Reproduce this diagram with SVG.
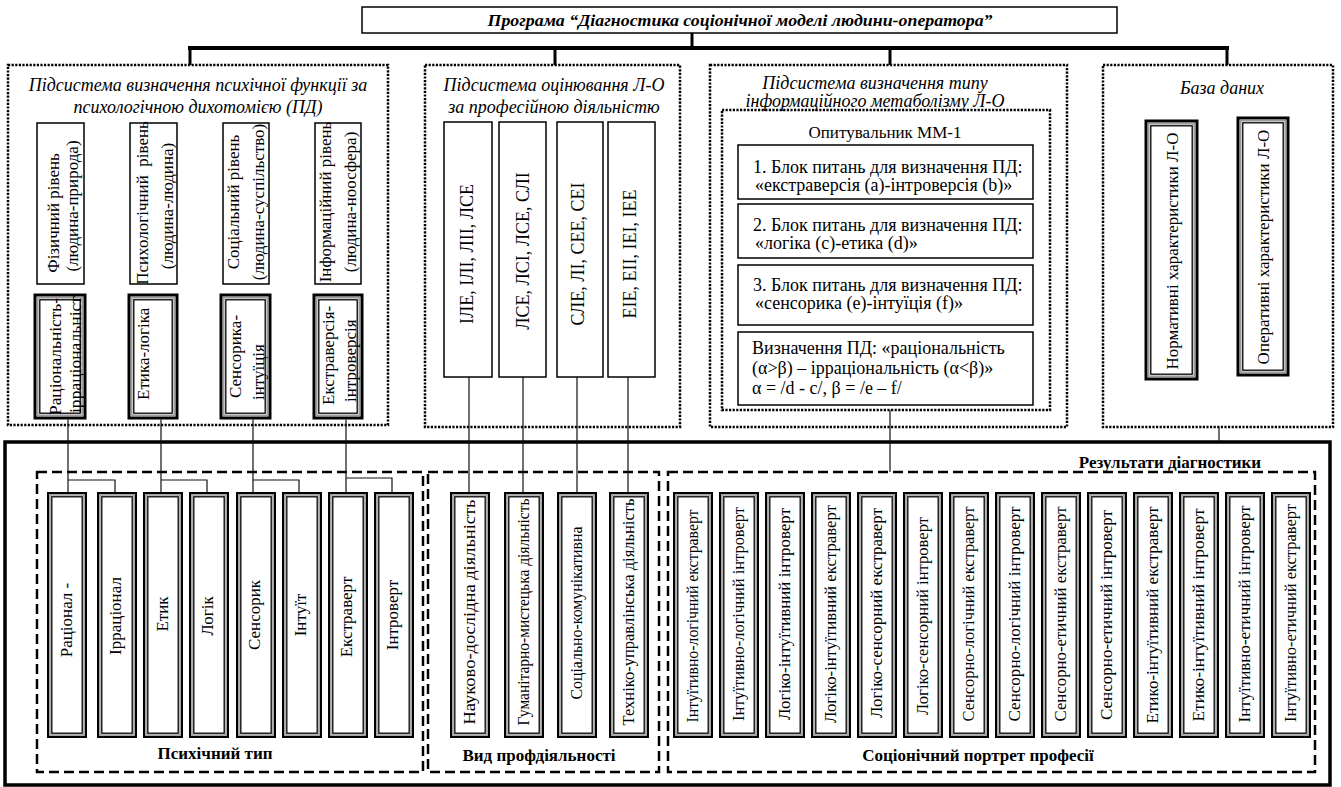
<svg xmlns="http://www.w3.org/2000/svg" width="1341" height="787" viewBox="0 0 1341 787">
  <style>
    text { font-family: "Liberation Serif", "Times New Roman", serif; fill: #000; }
    .it { font-style: italic; font-size: 18px; text-anchor: middle; }
    .ttl { font-style: italic; font-weight: bold; font-size: 16px; text-anchor: middle; }
    .bd { font-weight: bold; font-size: 17px; text-anchor: middle; }
    .v { font-size: 17px; text-anchor: middle; dominant-baseline: central; }
    .vs { font-size: 17px; text-anchor: start; dominant-baseline: central; }
    .vc { font-size: 18px; text-anchor: middle; dominant-baseline: central; }
    .vr { font-size: 16px; text-anchor: middle; dominant-baseline: central; }
    .h { font-size: 18px; }
    .box { fill: #fff; stroke: #000; stroke-width: 1.5; }
    .dot { fill: none; stroke: #000; stroke-width: 2.5; stroke-dasharray: 2.2 1.4; }
    .dash { fill: none; stroke: #000; stroke-width: 2.5; stroke-dasharray: 10 5; }
    .thick { fill: none; stroke: #000; stroke-width: 3.5; }
    .t1 { fill: #fff; stroke: #000; stroke-width: 2.2; }
    .t2 { fill: none; stroke: #999; stroke-width: 1.5; }
    .t3 { fill: none; stroke: #000; stroke-width: 1.3; }
    .ln { fill: none; stroke: #111; stroke-width: 1.2; }
    .bar { fill: none; stroke: #000; stroke-width: 4; }
    .drop { fill: none; stroke: #000; stroke-width: 3; }
  </style>
  <defs>
    <!-- triple-line frame, 40 x 246 -->
    <g id="tri40">
      <rect class="t1" x="1.1" y="1.1" width="37.8" height="243.8"/>
      <rect class="t2" x="3" y="3" width="34" height="240"/>
      <rect class="t3" x="4.8" y="4.8" width="30.4" height="236.4"/>
    </g>
  </defs>

  <rect width="1341" height="787" fill="#fff"/>

  <!-- program title -->
  <g id="title">
    <rect class="box" x="362" y="7" width="755" height="26"/>
    <text class="ttl" x="740" y="26" textLength="505" lengthAdjust="spacingAndGlyphs">Програма “Діагностика соціонічної моделі людини-оператора”</text>
  </g>

  <!-- subsystem: psychological dichotomies -->
  <g id="subsys-psych">
    <rect class="dot" x="8" y="65" width="380" height="360"/>
    <text class="it" x="198" y="91">Підсистема визначення психічної функції за</text>
    <text class="it" x="198" y="113">психологічною дихотомією (ПД)</text>
    <rect class="box" x="37" y="123" width="47" height="161"/>
    <rect class="box" x="130" y="123" width="47" height="161"/>
    <rect class="box" x="223" y="123" width="46" height="161"/>
    <rect class="box" x="315" y="123" width="46" height="161"/>
    <text class="v" transform="translate(53,213) rotate(-90)">Фізичний рівень</text>
    <text class="v" transform="translate(72,206) rotate(-90)">(людина-природа)</text>
    <text class="v" transform="translate(142,203) rotate(-90)" style="white-space:pre">Психологічний  рівень</text>
    <text class="v" transform="translate(167,206) rotate(-90)">(людина-людина)</text>
    <text class="v" transform="translate(233,202) rotate(-90)">Соціальний рівень</text>
    <text class="v" transform="translate(258,202) rotate(-90)">(людина-суспільство)</text>
    <text class="v" transform="translate(325,202) rotate(-90)">Інформаційний рівень</text>
    <text class="v" transform="translate(350,202) rotate(-90)">(людина-ноосфера)</text>
  </g>
  <g id="dichotomy-ri">
    <rect class="t1" x="35" y="295" width="50" height="123" style="stroke-width:3"/>
    <rect class="t2" x="37.8" y="297.8" width="44.4" height="117.4"/>
    <rect class="t3" x="39.8" y="299.8" width="40.4" height="113.4"/>
    <text class="vs" transform="translate(55,415) rotate(-90)" textLength="117" lengthAdjust="spacingAndGlyphs">Раціональність-</text>
    <text class="vs" transform="translate(75,413) rotate(-90)" textLength="117" lengthAdjust="spacingAndGlyphs">ірраціональніст</text>
  </g>
  <g id="dichotomy-el">
    <rect class="t1" x="129" y="295" width="48" height="123" style="stroke-width:3"/>
    <rect class="t2" x="131.8" y="297.8" width="42.4" height="117.4"/>
    <rect class="t3" x="133.8" y="299.8" width="38.4" height="113.4"/>
    <text class="vs" transform="translate(143,400) rotate(-90)">Етика-логіка</text>
  </g>
  <g id="dichotomy-si">
    <rect class="t1" x="221" y="295" width="49" height="123" style="stroke-width:3"/>
    <rect class="t2" x="223.8" y="297.8" width="43.4" height="117.4"/>
    <rect class="t3" x="225.8" y="299.8" width="39.4" height="113.4"/>
    <text class="vs" transform="translate(235,398) rotate(-90)">Сенсорика-</text>
    <text class="vs" transform="translate(258,400) rotate(-90)">інтуїція</text>
  </g>
  <g id="dichotomy-ei">
    <rect class="t1" x="314" y="295" width="48" height="123" style="stroke-width:3"/>
    <rect class="t2" x="316.8" y="297.8" width="42.4" height="117.4"/>
    <rect class="t3" x="318.8" y="299.8" width="38.4" height="113.4"/>
    <text class="vs" transform="translate(328,405) rotate(-90)">Екстраверсія-</text>
    <text class="vs" transform="translate(350,402) rotate(-90)">інтроверсія</text>
  </g>

  <!-- subsystem: professional activity -->
  <g id="subsys-prof">
    <rect class="dot" x="425" y="65" width="255" height="362"/>
    <text class="it" x="554" y="91">Підсистема оцінювання Л-О</text>
    <text class="it" x="554" y="113">за професійною діяльністю</text>
    <rect class="box" x="444" y="122" width="48" height="255"/>
    <rect class="box" x="499" y="122" width="47" height="255"/>
    <rect class="box" x="557" y="122" width="46" height="255"/>
    <rect class="box" x="608" y="122" width="47" height="255"/>
    <text class="vc" transform="translate(467,254) rotate(-90)">ІЛЕ, ІЛІ, ЛІІ, ЛСЕ</text>
    <text class="vc" transform="translate(523,251) rotate(-90)">ЛСЕ, ЛСІ, ЛСЕ, СЛІ</text>
    <text class="vc" transform="translate(578,254) rotate(-90)">СЛЕ, ЛІ, СЕЕ, СЕІ</text>
    <text class="vc" transform="translate(630,254) rotate(-90)">ЕІЕ, ЕІІ, ІЕІ, ІЕЕ</text>
  </g>

  <!-- subsystem: information metabolism type -->
  <g id="subsys-mm">
    <rect class="dot" x="710" y="65" width="357" height="362"/>
    <text class="it" x="875" y="89">Підсистема визначення типу</text>
    <text class="it" x="875" y="107">інформаційного метаболізму Л-О</text>
    <rect class="dot" x="722" y="110" width="328" height="300"/>
    <text class="h" x="885" y="138" text-anchor="middle" style="font-size:17px">Опитувальник ММ-1</text>
    <rect class="box" x="738" y="145" width="295" height="54"/>
    <text class="h" x="753" y="173">1. Блок питань для визначення ПД:</text>
    <text class="h" x="755" y="191">«екстраверсія (а)-інтроверсія (b)»</text>
    <rect class="box" x="738" y="204" width="295" height="54"/>
    <text class="h" x="753" y="231">2. Блок питань для визначення ПД:</text>
    <text class="h" x="755" y="249">«логіка (с)-етика (d)»</text>
    <rect class="box" x="738" y="265" width="295" height="60"/>
    <text class="h" x="753" y="291">3. Блок питань для визначення ПД:</text>
    <text class="h" x="755" y="309">«сенсорика (е)-інтуїція (f)»</text>
    <rect class="box" x="738" y="332" width="295" height="73"/>
    <text class="h" x="752" y="354">Визначення ПД: «раціональність</text>
    <text class="h" x="752" y="374">(α&gt;β) – ірраціональність (α&lt;β)»</text>
    <text class="h" x="752" y="394">α = /d - c/, β = /e – f/</text>
  </g>

  <!-- subsystem: database -->
  <g id="subsys-db">
    <rect class="dot" x="1103" y="65" width="230" height="362"/>
    <text class="it" x="1222" y="94">База даних</text>
    <rect class="t1" x="1146" y="121" width="51" height="258" style="stroke-width:3"/>
    <rect class="t2" x="1148.8" y="123.8" width="45.4" height="252.4"/>
    <rect class="t3" x="1150.8" y="125.8" width="41.4" height="248.4"/>
    <text class="v" transform="translate(1172,251) rotate(-90)">Нормативні характеристики Л-О</text>
    <rect class="t1" x="1238" y="118" width="50" height="257" style="stroke-width:3"/>
    <rect class="t2" x="1240.8" y="120.8" width="44.4" height="251.4"/>
    <rect class="t3" x="1242.8" y="122.8" width="40.4" height="247.4"/>
    <text class="v" transform="translate(1263,247) rotate(-90)">Оперативні характеристики Л-О</text>
  </g>

  <!-- diagnostic results -->
  <g id="results">
    <rect class="thick" x="5" y="442" width="1325" height="343"/>
    <text class="bd" x="1170" y="468">Результати діагностики</text>
  </g>

  <g id="psych-type">
    <rect class="dash" x="37" y="472" width="386" height="300"/>
    <text class="bd" x="215" y="759">Психічний тип</text>
    <use href="#tri40" x="47" y="492"/>
    <use href="#tri40" x="97" y="492"/>
    <use href="#tri40" x="143" y="492"/>
    <use href="#tri40" x="189" y="492"/>
    <use href="#tri40" x="236" y="492"/>
    <use href="#tri40" x="282" y="492"/>
    <use href="#tri40" x="328" y="492"/>
    <use href="#tri40" x="374" y="492"/>
    <text class="v" transform="translate(66,620) rotate(-90)">Раціонал -</text>
    <text class="v" transform="translate(115,616) rotate(-90)">Ірраціонал</text>
    <text class="v" transform="translate(162,614) rotate(-90)">Етик</text>
    <text class="v" transform="translate(207,616) rotate(-90)">Логік</text>
    <text class="v" transform="translate(254,615) rotate(-90)">Сенсорик</text>
    <text class="v" transform="translate(300,615) rotate(-90)">Інтуїт</text>
    <text class="v" transform="translate(346,617) rotate(-90)">Екстраверт</text>
    <text class="v" transform="translate(392,615) rotate(-90)">Інтроверт</text>
  </g>

  <g id="prof-kind">
    <rect class="dash" x="428" y="472" width="231" height="300"/>
    <text class="bd" x="539" y="761">Вид профдіяльності</text>
    <use href="#tri40" x="450" y="492"/>
    <use href="#tri40" x="504" y="492"/>
    <use href="#tri40" x="557" y="492"/>
    <use href="#tri40" x="609" y="492"/>
    <text class="vr" transform="translate(469,612) rotate(-90)" textLength="225" lengthAdjust="spacingAndGlyphs">Науково-дослідна діяльність</text>
    <text class="vr" transform="translate(523,612) rotate(-90)" textLength="227" lengthAdjust="spacingAndGlyphs">Гуманітарно-мистецька діяльність</text>
    <text class="vr" transform="translate(576,613) rotate(-90)" textLength="173" lengthAdjust="spacingAndGlyphs">Соціально-комунікативна</text>
    <text class="vr" transform="translate(628,612) rotate(-90)" textLength="227" lengthAdjust="spacingAndGlyphs">Техніко-управлінська діяльність</text>
  </g>

  <g id="socionic-portrait">
    <rect class="dash" x="668" y="472" width="647" height="300"/>
    <text class="bd" x="978" y="761">Соціонічний портрет професії</text>
    <use href="#tri40" x="673" y="492"/>
    <use href="#tri40" x="719" y="492"/>
    <use href="#tri40" x="765" y="492"/>
    <use href="#tri40" x="811" y="492"/>
    <use href="#tri40" x="857" y="492"/>
    <use href="#tri40" x="903" y="492"/>
    <use href="#tri40" x="949" y="492"/>
    <use href="#tri40" x="995" y="492"/>
    <use href="#tri40" x="1041" y="492"/>
    <use href="#tri40" x="1087" y="492"/>
    <use href="#tri40" x="1133" y="492"/>
    <use href="#tri40" x="1179" y="492"/>
    <use href="#tri40" x="1225" y="492"/>
    <use href="#tri40" x="1271" y="492"/>
    <text class="vr" transform="translate(692,616) rotate(-90)" textLength="213" lengthAdjust="spacingAndGlyphs">Інтуїтивно-логічний екстраверт</text>
    <text class="vr" transform="translate(738,614) rotate(-90)" textLength="214" lengthAdjust="spacingAndGlyphs">Інтуїтивно-логічний інтроверт</text>
    <text class="vr" transform="translate(784,614) rotate(-90)" textLength="212" lengthAdjust="spacingAndGlyphs">Логіко-інтуїтивний інтроверт</text>
    <text class="vr" transform="translate(830,614) rotate(-90)" textLength="218" lengthAdjust="spacingAndGlyphs">Логіко-інтуїтивний екстраверт</text>
    <text class="vr" transform="translate(876,613) rotate(-90)" textLength="210" lengthAdjust="spacingAndGlyphs">Логіко-сенсорний екстраверт</text>
    <text class="vr" transform="translate(922,616) rotate(-90)" textLength="198" lengthAdjust="spacingAndGlyphs">Логіко-сенсорний інтроверт</text>
    <text class="vr" transform="translate(968,614) rotate(-90)" textLength="215" lengthAdjust="spacingAndGlyphs">Сенсорно-логічний екстраверт</text>
    <text class="vr" transform="translate(1014,614) rotate(-90)" textLength="215" lengthAdjust="spacingAndGlyphs">Сенсорно-логічний інтроверт</text>
    <text class="vr" transform="translate(1060,614) rotate(-90)" textLength="215" lengthAdjust="spacingAndGlyphs">Сенсорно-етичний екстраверт</text>
    <text class="vr" transform="translate(1106,615) rotate(-90)" textLength="210" lengthAdjust="spacingAndGlyphs">Сенсорно-етичний інтроверт</text>
    <text class="vr" transform="translate(1152,615) rotate(-90)" textLength="217" lengthAdjust="spacingAndGlyphs">Етико-інтуїтивний екстраверт</text>
    <text class="vr" transform="translate(1198,615) rotate(-90)" textLength="213" lengthAdjust="spacingAndGlyphs">Етико-інтуїтивний інтроверт</text>
    <text class="vr" transform="translate(1244,614) rotate(-90)" textLength="217" lengthAdjust="spacingAndGlyphs">Інтуїтивно-етичний інтроверт</text>
    <text class="vr" transform="translate(1290,613) rotate(-90)" textLength="218" lengthAdjust="spacingAndGlyphs">Інтуїтивно-етичний екстраверт</text>
  </g>

  <!-- connectors -->
  <g id="connectors">
    <line class="drop" x1="692" y1="33" x2="692" y2="48"/>
    <line class="bar" x1="188" y1="48" x2="1229" y2="48"/>
    <line class="drop" x1="190" y1="48" x2="190" y2="65"/>
    <line class="drop" x1="555" y1="48" x2="555" y2="65"/>
    <line class="drop" x1="890" y1="48" x2="890" y2="65"/>
    <line class="drop" x1="1227" y1="48" x2="1227" y2="65"/>
    <path class="ln" d="M68,419.5 V492 M68,480 H115 V492"/>
    <path class="ln" d="M161,419.5 V492 M161,480 H207 V492"/>
    <path class="ln" d="M253,419.5 V492 M253,480 H299 V492"/>
    <path class="ln" d="M346,419.5 V492 M346,478 H392 V492"/>
    <path class="ln" d="M469,377 V492 M523,377 V492 M577,377 V492 M628,377 V492"/>
    <path class="ln" d="M890,410 V472"/>
    <path class="ln" d="M1219,427 V442"/>
  </g>
</svg>
